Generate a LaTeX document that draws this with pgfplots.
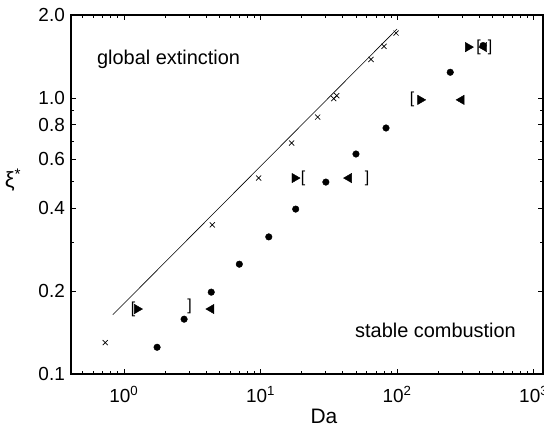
\documentclass[border=0pt]{standalone}
\usepackage{fontspec}
\setmainfont{Liberation Sans}
\usepackage{pgfplots}
\pgfplotsset{compat=1.18}
\begin{document}
\begin{tikzpicture}
\begin{axis}[
  at={(0,0)}, anchor=south west,
  xmode=log, ymode=log,
  width=472bp, height=359bp, scale only axis,
  xmin=0.41, xmax=1170, ymin=0.1, ymax=2.0,
  axis line style={line width=1.3pt},
  tick align=inside,
  tick style={black, line width=0.6pt},
  major tick length=5bp, minor tick length=3bp,
  xtick={1,10,100,1000},
  xticklabels={10\textsuperscript{0},10\textsuperscript{1},10\textsuperscript{2},10\textsuperscript{3}},
  minor xtick={0.5,0.6,0.7,0.8,0.9,2,3,4,5,6,7,8,9,20,30,40,50,60,70,80,90,200,300,400,500,600,700,800,900},
  ytick={0.1,0.2,0.4,0.6,0.8,1.0,2.0},
  yticklabels={0.1,0.2,0.4,0.6,0.8,1.0,2.0},
  minor ytick={0.3,0.5,0.7,0.9},
  ticklabel style={font=\fontsize{19}{22}\selectfont},
  xticklabel style={anchor=base, yshift=-28bp},
  yticklabel style={anchor=east, inner sep=0pt, xshift=-6bp},
  xlabel={Da},
  xlabel style={at={(axis description cs:0.536,0)}, anchor=base, yshift=-49bp, font=\fontsize{21}{24}\selectfont},
  ylabel={ξ\textsuperscript{*}},
  ylabel style={rotate=-90, at={(axis description cs:0,0.54)}, anchor=center, xshift=-58bp, font=\fontsize{22}{24}\selectfont},
  clip=false,
]
\addplot[black, line width=0.6pt] coordinates {(0.83,0.164) (100,1.78)};
\addplot[only marks, mark=x, mark size=3.6bp, mark options={line width=0.7pt, black}] coordinates {
 (0.73,0.13) (4.44,0.347) (9.7,0.513) (16.9,0.687) (26.2,0.853)
 (34.4,0.996) (36.2,1.02) (64.4,1.38) (80.2,1.54) (98.3,1.72)};
\addplot[only marks, mark=*, mark size=3.3bp, mark options={black, fill=black}] coordinates {
 (1.75,0.125) (2.76,0.158) (4.36,0.198) (7.0,0.25) (11.5,0.314) (18.1,0.396)
 (30.1,0.496) (50,0.627) (83,0.779) (245,1.24) (426,1.55)};
\addplot[only marks, mark=triangle*, mark size=5.4bp, mark options={rotate=-90, black, fill=black}] coordinates {
 (1.25,0.172) (17.8,0.513) (148,0.985) (331,1.53)};
\addplot[only marks, mark=triangle*, mark size=5.4bp, mark options={rotate=90, black, fill=black}] coordinates {
 (4.36,0.172) (44.4,0.513) (296,0.985) (433,1.53)};
\addplot[only marks, mark=text, text mark={\fontsize{16}{16}\selectfont [}] coordinates {
 (1.17,0.172) (20.5,0.513) (128.6,0.985) (395,1.53)};
\addplot[only marks, mark=text, text mark={\fontsize{16}{16}\selectfont ]}] coordinates {
 (3.03,0.176) (60.4,0.513) (480,1.53)};
\node[anchor=base west, inner sep=0pt, font=\fontsize{20}{24}\selectfont] at (rel axis cs:0.055,0.8635) {global extinction};
\node[anchor=base west, inner sep=0pt, font=\fontsize{20}{24}\selectfont] at (rel axis cs:0.6017,0.101) {stable combustion};
\end{axis}
\pgfresetboundingbox
\path[use as bounding box] (-71bp,-52bp) rectangle (473bp,374bp);
\end{tikzpicture}
\end{document}
